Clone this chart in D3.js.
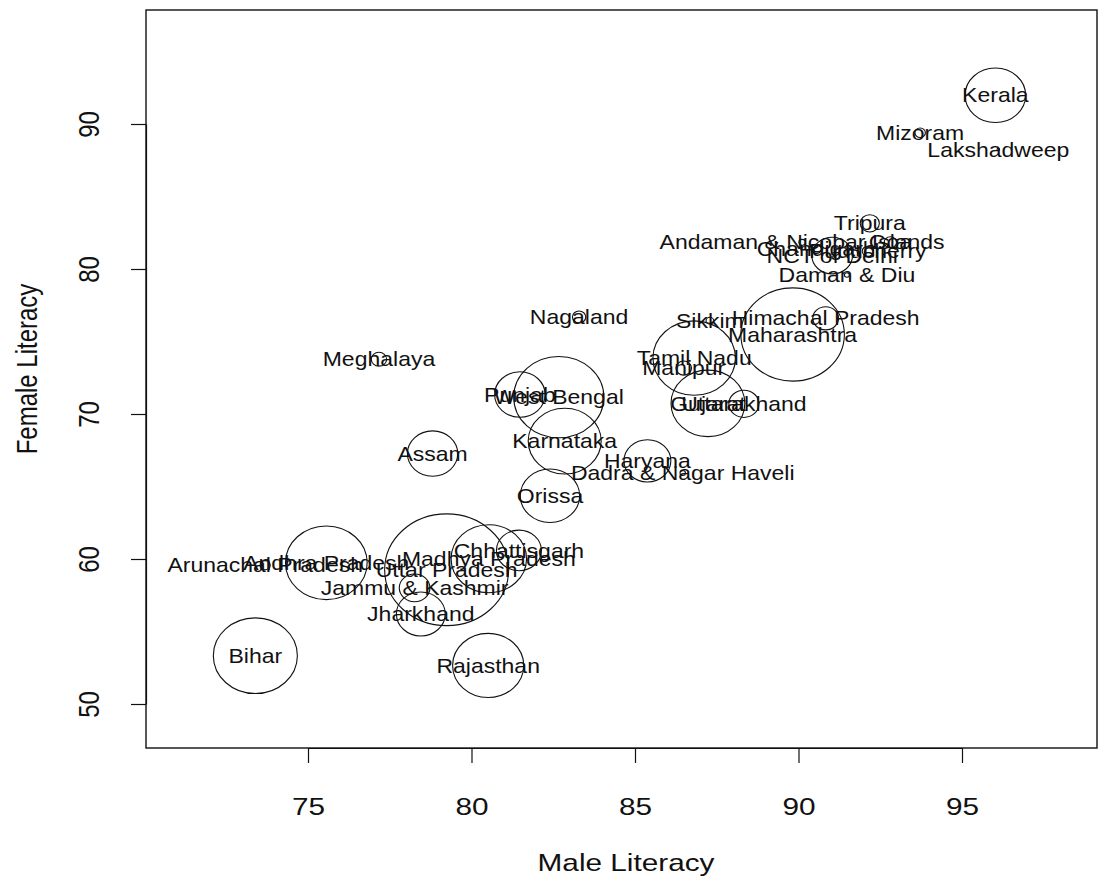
<!DOCTYPE html>
<html><head><meta charset="utf-8">
<script src="https://cdn.jsdelivr.net/npm/d3@7"></script>
<style>body{margin:0;background:#fff}svg{display:block}</style>
</head><body><svg id="c" width="1098" height="880"></svg>
<script>
const states = ["Jammu & Kashmir","Himachal Pradesh","Punjab","Chandigarh","Uttarakhand","Haryana","NCT of Delhi","Rajasthan","Uttar Pradesh","Bihar","Sikkim","Arunachal Pradesh","Nagaland","Manipur","Mizoram","Tripura","Meghalaya","Assam","West Bengal","Jharkhand","Orissa","Chhattisgarh","Madhya Pradesh","Gujarat","Daman & Diu","Dadra & Nagar Haveli","Maharashtra","Andhra Pradesh","Karnataka","Goa","Lakshadweep","Kerala","Tamil Nadu","Puducherry","Andaman & Nicobar Islands"];
const maleLiteracy = [78.26,90.83,81.48,90.54,88.33,85.38,91.03,80.51,79.24,73.39,87.29,73.69,83.29,86.49,93.72,92.18,77.17,78.81,82.67,78.45,82.40,81.45,80.53,87.23,91.48,86.46,89.82,75.56,82.85,92.81,96.11,96.02,86.81,92.12,90.11];
const femaleLiteracy = [58.01,76.60,71.34,81.38,70.70,66.77,80.93,52.66,59.26,53.33,76.43,59.57,76.69,73.17,89.40,83.15,73.78,67.27,71.16,56.21,64.36,60.59,60.02,70.73,79.59,65.93,75.48,59.74,68.13,81.84,88.25,91.98,73.86,81.22,81.84];
// number of literates (millions) -> circle size
const literates = [7.25,5.10,19.64,0.81,7.00,16.90,12.76,38.97,118.42,54.39,0.45,0.79,1.36,1.89,0.85,2.83,1.82,19.51,62.61,18.33,27.11,15.60,43.83,41.95,0.19,0.23,82.51,51.44,41.03,1.17,0.05,28.23,52.41,0.97,0.32];
const xTicks = [75,80,85,90,95];
const yTicks = [50,60,70,80,90];
const xTitle = "Male Literacy";
const yTitle = "Female Literacy";

const svg = d3.select("#c");
const x = d3.scaleLinear().domain([75,95]).range([308,962]);
const y = d3.scaleLinear().domain([50,90]).range([704,124]);
const r = d3.scaleSqrt().domain([0, d3.max(literates)]).range([0,62]);
const aspect = 1.11;
const box = {l:146, t:10, r:1097, b:748};
const font = "'Liberation Sans', Arial, sans-serif";
const ink = "#111";

const data = states.map((s,i)=>({name:s, m:maleLiteracy[i], f:femaleLiteracy[i], n:literates[i]}));

// circles
svg.append("g").selectAll("ellipse").data(data).join("ellipse")
  .attr("cx", d=>x(d.m)).attr("cy", d=>y(d.f))
  .attr("rx", d=>r(d.n)).attr("ry", d=>r(d.n)/aspect)
  .attr("fill","none").attr("stroke",ink).attr("stroke-width",1.1);

// labels
const LF = 20, LS = 1.15;
svg.append("g").selectAll("text").data(data).join("text")
  .attr("transform", d=>`translate(${x(d.m)},${y(d.f)+0.358*LF}) scale(${LS},1)`)
  .attr("text-anchor","middle").attr("font-family",font).attr("font-size",LF)
  .attr("fill",ink).text(d=>d.name);

// box
svg.append("rect").attr("x",box.l).attr("y",box.t).attr("width",box.r-box.l).attr("height",box.b-box.t)
  .attr("fill","none").attr("stroke",ink).attr("stroke-width",1.4);

const AF = 24, AS = 1.24;
// x axis
const gx = svg.append("g").attr("transform",`translate(0,${box.b})`)
  .call(d3.axisBottom(x).tickValues(xTicks).tickSize(15).tickSizeOuter(0).tickFormat(d3.format("d")));
gx.select(".domain").attr("stroke",ink).attr("stroke-width",1.2);
gx.selectAll(".tick line").attr("stroke",ink).attr("stroke-width",1.2);
gx.selectAll(".tick text").attr("y",null).attr("dy",null)
  .attr("transform",`translate(0,${58+0.358*AF}) scale(${AS},1)`)
  .attr("font-family",font).attr("font-size",AF).attr("fill",ink);

// y axis
const gy = svg.append("g").attr("transform",`translate(${box.l},0)`)
  .call(d3.axisLeft(y).tickValues(yTicks).tickSize(15).tickSizeOuter(0).tickFormat(d3.format("d")));
gy.select(".domain").attr("stroke",ink).attr("stroke-width",1.2);
gy.selectAll(".tick line").attr("stroke",ink).attr("stroke-width",1.2);
gy.selectAll(".tick text").attr("x",null).attr("dy",null)
  .attr("text-anchor","middle")
  .attr("transform",`translate(${-58+0.358*AF*AS},0) scale(${AS},1) rotate(-90)`)
  .attr("font-family",font).attr("font-size",AF).attr("fill",ink);

// titles
svg.append("text").attr("transform",`translate(626,871) scale(${AS},1)`)
  .attr("text-anchor","middle").attr("font-family",font).attr("font-size",AF).attr("fill",ink).text(xTitle);
svg.append("text").attr("transform",`translate(37,${(box.t+box.b)/2-10}) scale(${AS},1) rotate(-90)`)
  .attr("text-anchor","middle").attr("font-family",font).attr("font-size",AF).attr("fill",ink).text(yTitle);
</script></body></html>
